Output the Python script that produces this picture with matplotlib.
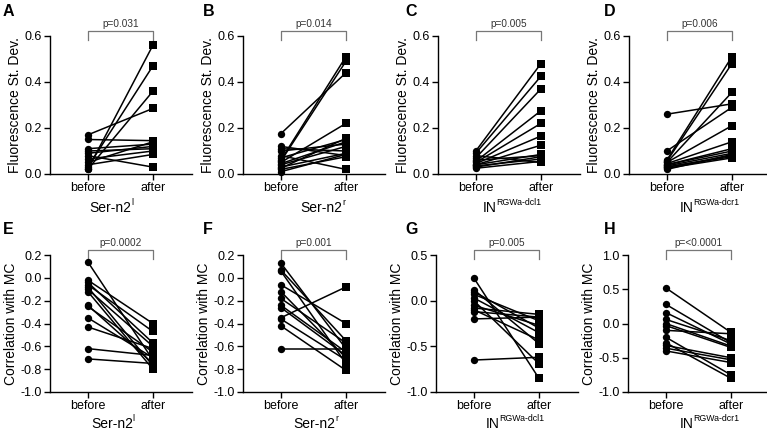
import matplotlib
matplotlib.use("Agg")
import matplotlib.pyplot as plt
import matplotlib.transforms as mtransforms

plt.rcParams['font.family'] = ['Liberation Sans', 'DejaVu Sans']
plt.rcParams['axes.unicode_minus'] = False

conditions = ["before", "after"]
letters = ["A", "B", "C", "D", "E", "F", "G", "H"]
pvalues = ["p=0.031", "p=0.014", "p=0.005", "p=0.006",
           "p=0.0002", "p=0.001", "p=0.005", "p=<0.0001"]
group_base = ["Ser-n2", "Ser-n2", "IN", "IN"]
group_sup = ["l", "r", "RGWa-dcl1", "RGWa-dcr1"]
ylabels = ["Fluorescence St. Dev.", "Correlation with MC"]

A_before = [0.17, 0.15, 0.11, 0.10, 0.09, 0.08, 0.065, 0.05, 0.04, 0.03, 0.02, 0.02]
A_after = [0.285, 0.145, 0.13, 0.11, 0.12, 0.03, 0.10, 0.14, 0.085, 0.47, 0.56, 0.36]

B_before = [0.175, 0.12, 0.11, 0.10, 0.08, 0.07, 0.06, 0.055, 0.05, 0.045, 0.04, 0.03, 0.025, 0.02, 0.01]
B_after = [0.44, 0.08, 0.10, 0.13, 0.02, 0.15, 0.51, 0.49, 0.22, 0.14, 0.12, 0.09, 0.155, 0.075, 0.085]

C_before = [0.10, 0.09, 0.08, 0.07, 0.06, 0.055, 0.05, 0.045, 0.04, 0.04, 0.035, 0.03, 0.025]
C_after = [0.48, 0.425, 0.05, 0.37, 0.08, 0.275, 0.22, 0.165, 0.125, 0.085, 0.065, 0.075, 0.055]

D_before = [0.26, 0.10, 0.06, 0.055, 0.05, 0.05, 0.045, 0.04, 0.04, 0.035, 0.03, 0.03, 0.025, 0.02]
D_after = [0.305, 0.29, 0.51, 0.48, 0.355, 0.21, 0.14, 0.11, 0.10, 0.09, 0.08, 0.075, 0.07, 0.085]

E_before = [0.14, -0.02, -0.04, -0.06, -0.08, -0.10, -0.12, -0.24, -0.25, -0.35, -0.43, -0.62, -0.71]
E_after = [-0.72, -0.40, -0.57, -0.47, -0.77, -0.60, -0.80, -0.75, -0.65, -0.70, -0.62, -0.68, -0.75]

F_before = [0.13, 0.07, 0.06, -0.06, -0.12, -0.18, -0.24, -0.26, -0.35, -0.36, -0.42, -0.62]
F_after = [-0.62, -0.55, -0.75, -0.40, -0.70, -0.57, -0.65, -0.68, -0.08, -0.72, -0.81, -0.62]

G_before = [0.25, 0.12, 0.10, 0.07, 0.03, 0.00, -0.05, -0.08, -0.10, -0.12, -0.20, -0.65]
G_after = [-0.85, -0.47, -0.30, -0.22, -0.35, -0.69, -0.27, -0.15, -0.43, -0.18, -0.18, -0.62]

H_before = [0.52, 0.28, 0.16, 0.06, 0.00, -0.03, -0.10, -0.20, -0.28, -0.32, -0.36, -0.40]
H_after = [-0.13, -0.28, -0.30, -0.25, -0.33, -0.35, -0.15, -0.75, -0.80, -0.50, -0.53, -0.57]

befores = [A_before, B_before, C_before, D_before, E_before, F_before, G_before, H_before]
afters = [A_after, B_after, C_after, D_after, E_after, F_after, G_after, H_after]

yticks_list = [
    [0.0, 0.2, 0.4, 0.6], [0.0, 0.2, 0.4, 0.6], [0.0, 0.2, 0.4, 0.6], [0.0, 0.2, 0.4, 0.6],
    [-1.0, -0.8, -0.6, -0.4, -0.2, 0.0, 0.2],
    [-1.0, -0.8, -0.6, -0.4, -0.2, 0.0, 0.2],
    [-1.0, -0.5, 0.0, 0.5],
    [-1.0, -0.5, 0.0, 0.5, 1.0],
]

W, H = 767, 434
fig = plt.figure(figsize=(W / 100, H / 100), dpi=100)

lefts = [50, 243, 438, 629, 50, 243, 436, 628]
tops = [36, 36, 36, 36, 255, 255, 255, 255]
bottoms = [174, 174, 174, 174, 392, 392, 392, 392]
axw = 142
label_start = [0.03, 0.3, 0.11, 0.2, 0.05, 0.2, 0.18, 0.22]
label_y = [-0.245, -0.245, -0.245, -0.245, -0.235, -0.235, -0.235, -0.235]
letter_pos = [(3, 19), (203, 19), (405, 19), (604, 19),
              (3, 237), (203, 237), (405, 237), (604, 237)]

for i in range(8):
    l, t, b = lefts[i], tops[i], bottoms[i]
    ax = fig.add_axes([l / W, 1 - b / H, axw / W, (b - t) / H])
    for yb, ya in zip(befores[i], afters[i]):
        ax.plot([0, 1], [yb, ya], color='black', lw=1.1, zorder=2, clip_on=False)
    ax.scatter([0] * len(befores[i]), befores[i], marker='o', s=28, color='black',
               zorder=3, clip_on=False, linewidths=0)
    ax.scatter([1] * len(afters[i]), afters[i], marker='s', s=28, color='black',
               zorder=3, clip_on=False, linewidths=0)
    yt = yticks_list[i]
    ax.set_ylim(yt[0], yt[-1])
    ax.set_yticks(yt)
    ax.set_yticklabels([f"{v:.1f}" for v in yt])
    ax.set_xlim(-0.58, 1.6)
    ax.set_xticks([0, 1])
    ax.set_xticklabels(conditions)
    for s in ['top', 'right']:
        ax.spines[s].set_visible(False)
    for s in ['left', 'bottom']:
        ax.spines[s].set_linewidth(1.0)
    ax.tick_params(direction='out', length=4, width=1.0, labelsize=9, pad=2)
    ax.set_ylabel(ylabels[i // 4], fontsize=10, labelpad=2)
    trans = mtransforms.blended_transform_factory(ax.transData, ax.transAxes)
    base = ax.text(label_start[i], label_y[i], group_base[i % 4], transform=trans,
                   ha='left', va='center', fontsize=10)
    ax.annotate(group_sup[i % 4], xy=(1, 0.55), xycoords=base,
                xytext=(-0.3, 0), textcoords='offset points',
                ha='left', va='bottom', fontsize=6.3)
    # significance bracket
    ax.plot([0, 0, 1, 1], [0.97, 1.035, 1.035, 0.97], color='#777777', lw=0.9,
            transform=trans, clip_on=False)
    ax.text(0.5, 1.05, pvalues[i], transform=trans, ha='center', va='bottom',
            fontsize=7.2, color='#333333')
    fig.text(letter_pos[i][0] / W, 1 - letter_pos[i][1] / H, letters[i],
             fontsize=11.5, fontweight='bold', ha='left', va='bottom')

fig.savefig("out.png", dpi=100)
